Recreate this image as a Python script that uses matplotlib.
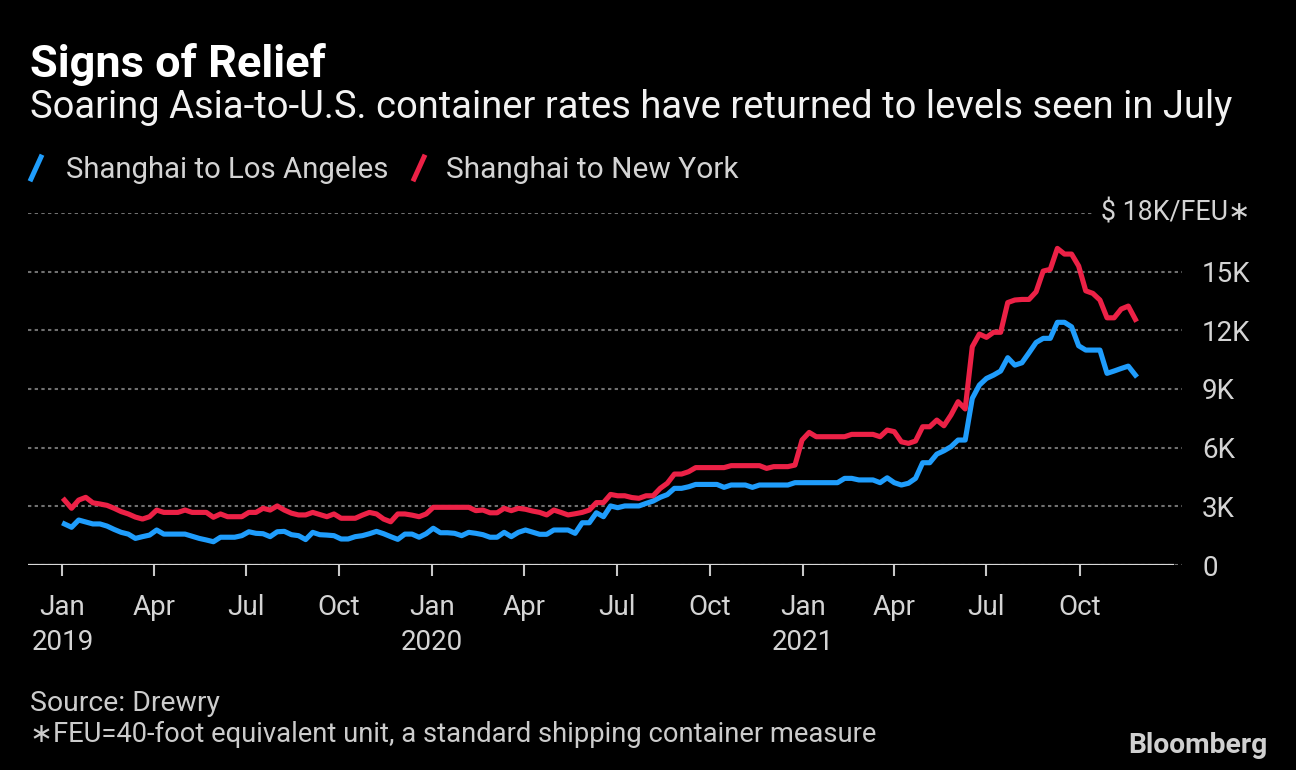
import numpy as np
import pandas as pd
import matplotlib
matplotlib.use("Agg")
import matplotlib.pyplot as plt
from matplotlib.lines import Line2D
from matplotlib.ticker import FuncFormatter

# Drewry weekly spot rates, $K per FEU (Thursdays)
first_week = "2019-01-03"

la_rates = [
    2.10, 1.93, 2.30, 2.20, 2.10, 2.10, 1.99, 1.82, 1.67, 1.58,
    1.36, 1.45, 1.53, 1.79, 1.58, 1.58, 1.58, 1.58, 1.47, 1.36,
    1.28, 1.19, 1.42, 1.42, 1.42, 1.50, 1.70, 1.62, 1.60, 1.45,
    1.70, 1.72, 1.55, 1.50, 1.30, 1.67, 1.55, 1.53, 1.50, 1.33,
    1.33, 1.45, 1.50, 1.60, 1.72, 1.60, 1.45, 1.31, 1.58, 1.58,
    1.42, 1.60, 1.88, 1.65, 1.65, 1.62, 1.50, 1.67, 1.62, 1.55,
    1.42, 1.42, 1.67, 1.45, 1.67, 1.79, 1.68, 1.57, 1.57, 1.79,
    1.79, 1.79, 1.62, 2.16, 2.16, 2.67, 2.47, 3.02, 2.93, 3.02,
    3.02, 3.02, 3.15, 3.27, 3.46, 3.60, 3.92, 3.92, 4.00, 4.12,
    4.12, 4.12, 4.12, 3.97, 4.09, 4.09, 4.09, 3.97, 4.09, 4.09,
    4.09, 4.09, 4.09, 4.21, 4.21, 4.21, 4.21, 4.21, 4.21, 4.21,
    4.43, 4.43, 4.35, 4.35, 4.35, 4.21, 4.46, 4.21, 4.09, 4.18,
    4.43, 5.23, 5.23, 5.67, 5.84, 6.05, 6.39, 6.39, 8.52, 9.20,
    9.54, 9.71, 9.92, 10.60, 10.22, 10.34, 10.85, 11.38, 11.59, 11.59,
    12.41, 12.41, 12.18, 11.21, 10.99, 10.99, 10.99, 9.80, 9.92, 10.05,
    10.17, 9.71,
]

ny_rates = [
    3.32, 2.90, 3.32, 3.46, 3.18, 3.12, 3.05, 2.90, 2.73, 2.61,
    2.45, 2.35, 2.47, 2.81, 2.69, 2.69, 2.69, 2.81, 2.69, 2.69,
    2.69, 2.44, 2.61, 2.47, 2.47, 2.47, 2.69, 2.69, 2.90, 2.81,
    3.02, 2.81, 2.65, 2.56, 2.56, 2.69, 2.58, 2.47, 2.61, 2.39,
    2.39, 2.39, 2.55, 2.69, 2.61, 2.35, 2.21, 2.61, 2.61, 2.55,
    2.47, 2.61, 2.95, 2.95, 2.95, 2.95, 2.95, 2.95, 2.78, 2.81,
    2.67, 2.67, 2.90, 2.78, 2.90, 2.85, 2.76, 2.69, 2.56, 2.81,
    2.69, 2.56, 2.62, 2.69, 2.81, 3.19, 3.19, 3.61, 3.54, 3.54,
    3.45, 3.41, 3.54, 3.54, 3.92, 4.18, 4.65, 4.65, 4.77, 4.98,
    4.98, 4.98, 4.98, 4.98, 5.08, 5.08, 5.08, 5.08, 5.08, 4.94,
    5.03, 5.03, 5.03, 5.11, 6.39, 6.78, 6.56, 6.56, 6.56, 6.56,
    6.56, 6.68, 6.68, 6.68, 6.68, 6.56, 6.90, 6.82, 6.30, 6.22,
    6.34, 7.07, 7.07, 7.41, 7.12, 7.67, 8.35, 7.98, 11.16, 11.81,
    11.64, 11.90, 11.90, 13.42, 13.55, 13.58, 13.58, 13.97, 15.03, 15.12,
    16.19, 15.90, 15.90, 15.29, 14.02, 13.89, 13.55, 12.64, 12.64, 13.09,
    13.24, 12.56,
]

series_names = ["Shanghai to Los Angeles", "Shanghai to New York"]
y_ticks = [0, 3, 6, 9, 12, 15, 18]
x_ticks = pd.date_range("2019-01-01", "2021-10-01", freq="QS")

BLUE = "#1f9dfc"
RED = "#ec2146"
BG = "black"
W, H = 1296, 770


def px(x, y):
    """pixel position (from top left) to figure fraction"""
    return x / W, 1 - y / H


def fit(txt, width):
    """scale a text's font so it spans the given width in pixels"""
    w = txt.get_window_extent(fig.canvas.get_renderer()).width
    txt.set_fontsize(txt.get_fontsize() * width / w)


weeks = pd.date_range(first_week, periods=len(la_rates), freq="7D")

plt.rcParams["font.family"] = ["Roboto", "DejaVu Sans"]
fig = plt.figure(figsize=(W / 100, H / 100), dpi=100, facecolor=BG)

# axes spans x 28..1182 px and y 213..565 px
left, top = px(28, 213)
right, bottom = px(1182, 565)
ax = fig.add_axes([left, bottom, right - left, top - bottom], facecolor=BG)

ax.plot(weeks, la_rates, color=BLUE, lw=3.7, solid_joinstyle="round", zorder=3)
ax.plot(weeks, ny_rates, color=RED, lw=3.7, solid_joinstyle="round", zorder=4)

ax.set_xlim(pd.Timestamp("2018-11-28"), pd.Timestamp("2022-01-10"))
ax.set_ylim(0, 18)

for s in ax.spines.values():
    s.set_visible(False)

# dotted grid plus solid baseline
ax.set_yticks(y_ticks)
ax.grid(axis="y", color="#707070", lw=1.5, linestyle=(0, (1.6, 1.6)))
ax.axhline(0, xmin=0, xmax=0.992, color="#d8d8d8", lw=1.6, zorder=2)

ax.yaxis.tick_right()
ax.yaxis.set_major_formatter(FuncFormatter(
    lambda v, p: "0" if v == 0 else ("" if v >= 18 else "%dK" % v)))
ax.tick_params(axis="y", length=0, pad=14.4, labelsize=20, labelcolor="#d4d4d4")

ax.set_xticks(x_ticks)
ax.set_xticklabels([d.strftime("%b") + ("\n%d" % d.year if d.month == 1 else "")
                    for d in x_ticks])
ax.tick_params(axis="x", length=8, width=1.5, color="#c8c8c8", pad=13,
               labelsize=20, labelcolor="#d4d4d4")
for t in ax.get_xticklabels():
    t.set_linespacing(1.35)

# unit label at top of the scale, masks the end of the 18K gridline
unit = fig.text(*px(1250, 213), "$ 18K/FEU\u2217", ha="right", va="center",
                fontsize=20, color="#d4d4d4",
                bbox=dict(facecolor=BG, edgecolor="none", pad=5))

# titles
title = fig.text(*px(30, 77), "Signs of Relief", fontsize=28, fontweight="bold",
                 color="white", va="baseline")
sub = fig.text(*px(30, 118),
               "Soaring Asia-to-U.S. container rates have returned to levels seen in July",
               fontsize=26, color="#f2f2f2", va="baseline")

# legend with slanted strokes
leg = []
leg_x = [(30, 66), (413, 446)]
for (sx, tx), name, col in zip(leg_x, series_names, [BLUE, RED]):
    fig.add_artist(Line2D([(sx + 1) / W, (sx + 11) / W], [1 - 179 / H, 1 - 157 / H],
                          color=col, lw=3.6, transform=fig.transFigure))
    leg.append(fig.text(*px(tx, 178), name, fontsize=21, color="#d4d4d4",
                        va="baseline"))

# footer
src = fig.text(*px(30, 711), "Source: Drewry", fontsize=19, color="#cccccc",
               va="baseline")
note = fig.text(*px(30, 742),
                "\u2217FEU=40-foot equivalent unit, a standard shipping container measure",
                fontsize=19, color="#cccccc", va="baseline")
logo = fig.text(*px(1268, 753), "Bloomberg", fontsize=18, fontweight="bold",
                color="#d0d0d0", ha="right", va="baseline")

fit(title, 296)
fit(sub, 1202)
fit(leg[0], 322)
fit(leg[1], 292)
fit(src, 190)
fit(note, 846)
fit(logo, 140)
fit(unit, 149)

fig.savefig("out.png", dpi=100, facecolor=BG)
